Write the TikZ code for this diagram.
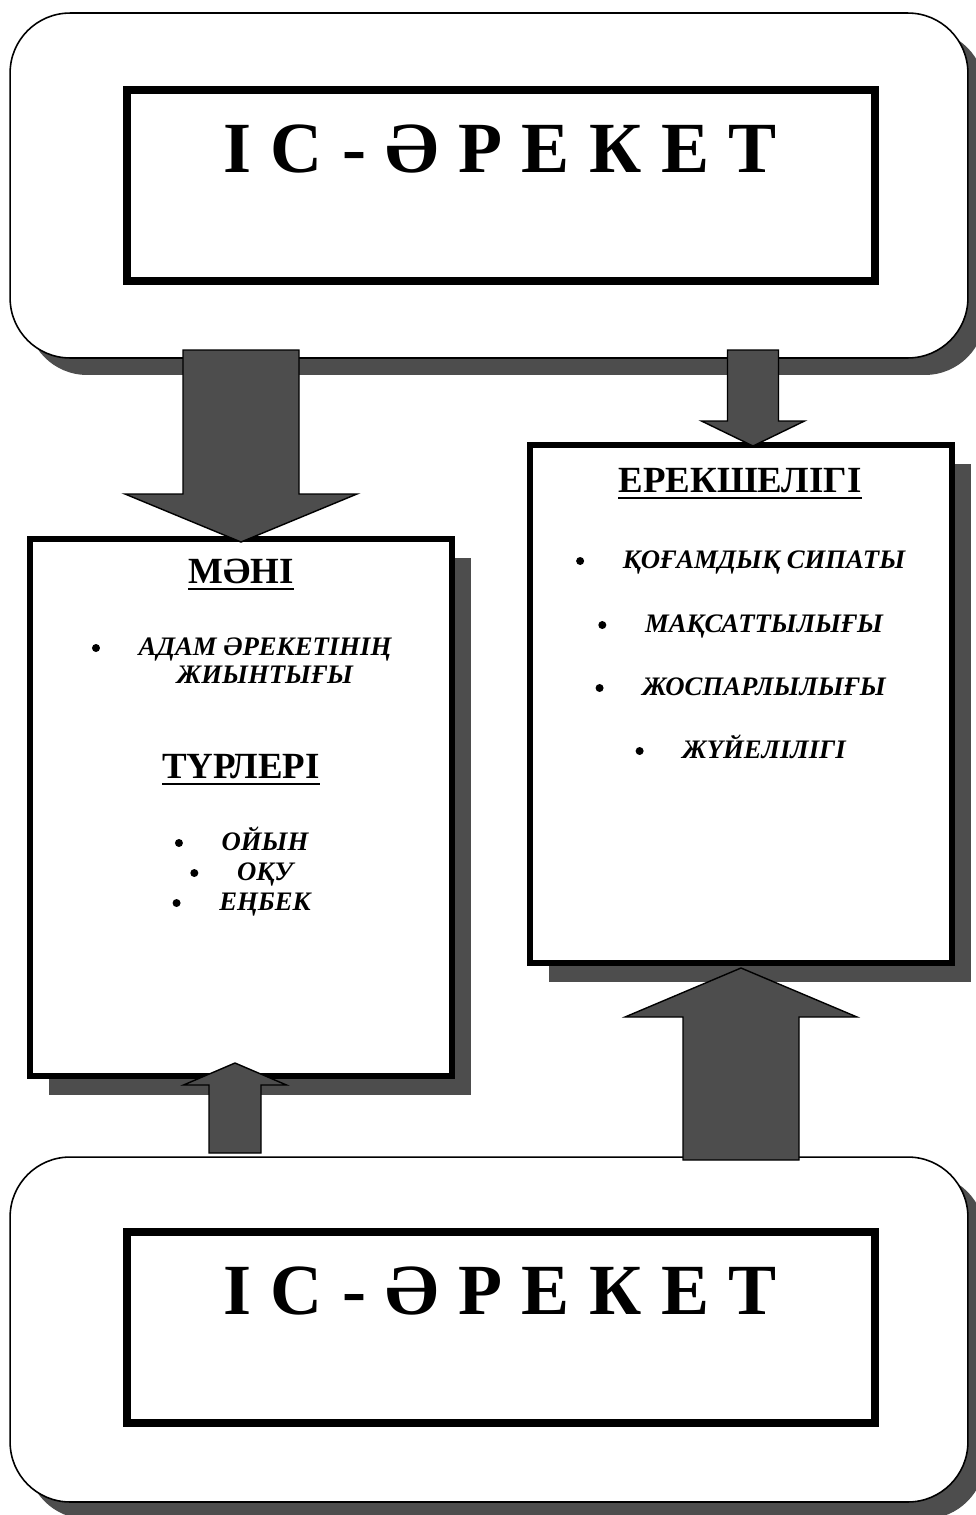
\documentclass[tikz,border=0pt]{standalone}
\usepackage{fontspec}
\setmainfont{Liberation Serif}
\usetikzlibrary{calc,positioning,shadows}

\definecolor{shadegray}{HTML}{4D4D4D}

% spaced-out title letters
\newcommand{\lsp}{\hspace{0.27em}}
\newcommand{\titleword}{І\lsp С\lsp -\lsp Ә\lsp Р\lsp Е\lsp К\lsp Е\lsp Т}

% block arrow: tail, tip, shaft half width, head half width, head length
\newcommand{\fatarrow}[5]{%
  \draw[blockarrow] ($(#1)+(-#3,0)$) -- ($(#2)+(-#3,{-(#5)})$) -- ($(#2)+(-#4,{-(#5)})$)
    -- (#2) -- ($(#2)+(#4,{-(#5)})$) -- ($(#2)+(#3,{-(#5)})$) -- ($(#1)+(#3,0)$) -- cycle;}

\tikzset{
  frame/.style={draw=black, line width=0.9pt, fill=white, rounded corners=1.2cm,
    minimum width=19.16cm, minimum height=6.9cm, inner sep=0pt,
    drop shadow={shadow xshift=0.34cm, shadow yshift=-0.34cm, fill=shadegray, opacity=1}},
  titlebox/.style={draw=black, line width=4.5pt, fill=white,
    minimum width=14.96cm, minimum height=3.82cm, inner sep=0pt},
  listbox/.style={draw=black, line width=3.4pt, fill=white,
    minimum width=8.44cm, inner sep=0pt,
    drop shadow={shadow xshift=0.38cm, shadow yshift=-0.38cm, fill=shadegray, opacity=1}},
  blockarrow/.style={draw=black, line width=0.8pt, fill=shadegray, line join=miter},
  titletext/.style={font=\bfseries\fontsize{41}{48}\selectfont, inner sep=0pt},
  headtext/.style={font=\bfseries\fontsize{21}{25}\selectfont, inner sep=0pt},
  itemtext/.style={font=\bfseries\itshape\fontsize{15.2}{17}\selectfont, inner sep=0pt},
  dot/.style={circle, fill=black, inner sep=0pt, minimum size=0.16cm},
  uline/.style={line width=1.4pt},
}

\begin{document}
\begin{tikzpicture}[x=0.02cm,y=-0.02cm]
\useasboundingbox (0,0) rectangle (976,1515);

% upper frame
\node[frame] (topframe) at (489,185.5) {};
\node[titlebox] (topbox) at (501,185.5) {};
\node[titletext, anchor=base] (toptext) at (500,172) {\titleword};

% left box
\node[listbox, minimum height=10.74cm] (mani) at (241,807.5) {};
\node[headtext, anchor=base] (manihead) at (241,583) {МӘНІ};
\node[itemtext, anchor=base] (adam) at (265,655) {АДАМ ӘРЕКЕТІНІҢ};
\node[itemtext, anchor=base] (adam2) at (265,683) {ЖИЫНТЫҒЫ};
\node[headtext, anchor=base] (turhead) at (241,778) {ТҮРЛЕРІ};
\node[itemtext, anchor=base] (oiyn) at (265,850) {ОЙЫН};
\node[itemtext, anchor=base] (oqu) at (265,880) {ОҚУ};
\node[itemtext, anchor=base] (enbek) at (265,910) {ЕҢБЕК};

% right box
\node[listbox, minimum height=10.36cm] (erek) at (741,704) {};
\node[headtext, anchor=base] (erekhead) at (740,492) {ЕРЕКШЕЛІГІ};
\node[itemtext, anchor=base] (qogam) at (764,568) {ҚОҒАМДЫҚ СИПАТЫ};
\node[itemtext, anchor=base] (maqsat) at (764,632) {МАҚСАТТЫЛЫҒЫ};
\node[itemtext, anchor=base] (zhospar) at (764,695) {ЖОСПАРЛЫЛЫҒЫ};
\node[itemtext, anchor=base] (zhuie) at (764,758) {ЖҮЙЕЛІЛІГІ};

\foreach \h in {manihead,turhead,erekhead}
  \draw[uline] ([yshift=-0.12cm]\h.base west) -- ([yshift=-0.12cm]\h.base east);
\foreach \i in {adam,oiyn,oqu,enbek,qogam,maqsat,zhospar,zhuie}
  \node[dot, left=0.76cm of \i.base west, yshift=0.14cm] (\i-dot) {};

% lower frame
\node[frame] (botframe) at (489,1329.5) {};
\node[titlebox] (botbox) at (501,1327.5) {};
\node[titletext, anchor=base] (bottext) at (500,1314) {\titleword};

% arrows
\coordinate (bigtail) at (241,350);
\coordinate (bigtip) at (241,542);
\coordinate (smalltail) at (753,350);
\coordinate (smalltip) at (753,446);
\coordinate (uptail) at (741,1160);
\coordinate (uptip) at (741,968);
\coordinate (lowtail) at (235,1153);
\coordinate (lowtip) at (235,1063);
\fatarrow{bigtail}{bigtip}{58}{116}{48}
\fatarrow{smalltail}{smalltip}{25.5}{51.5}{25}
\fatarrow{uptail}{uptip}{58}{116}{-49}
\fatarrow{lowtail}{lowtip}{26}{51.5}{-22}
\end{tikzpicture}
\end{document}
